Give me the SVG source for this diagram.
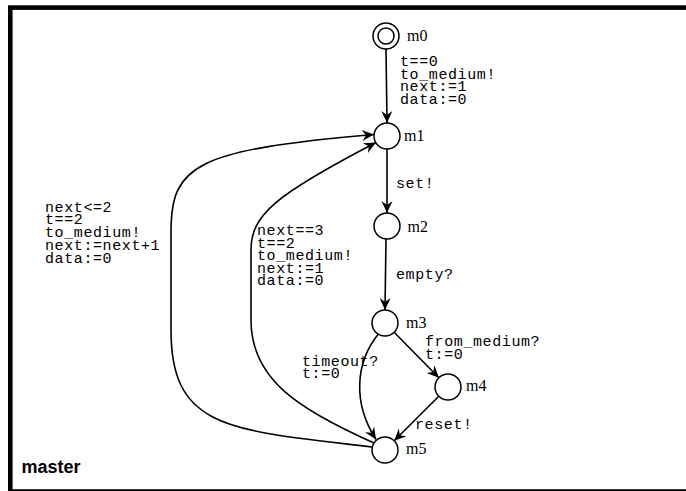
<svg xmlns="http://www.w3.org/2000/svg" width="686" height="491" viewBox="0 0 686 491">
<defs>
<style>
.node circle{fill:#fff;stroke:#000;stroke-width:1.5}
.nl{font-family:"Liberation Serif",serif;font-size:16px;fill:#000}
.el{font-family:"Liberation Mono",monospace;font-size:15px;letter-spacing:0.6px;fill:#000}
.edge{fill:none;stroke:#000;stroke-width:1.6;marker-end:url(#arr)}
</style>
<marker id="arr" markerUnits="userSpaceOnUse" viewBox="-14 -7 16 14" markerWidth="16" markerHeight="14" refX="0" refY="0" orient="auto">
<path d="M0,0 L-12,-5.5 L-8,0 L-12,5.5 Z" fill="#000"/>
</marker>
</defs>
<rect x="0" y="0" width="686" height="491" fill="#fff"/>
<rect x="10.3" y="7.6" width="700" height="483.9" fill="none" stroke="#000" stroke-width="4.6"/>
<text x="21.5" y="472.7" style="font-family:'Liberation Sans',Arial,sans-serif;font-size:18px;font-weight:bold">master</text>

<g id="connectors">
<path class="edge" d="M386,49 L387,123"/>
<path class="edge" d="M387,149 L387,213"/>
<path class="edge" d="M386,239 L385,310"/>
<path class="edge" d="M394.1,332.3 L438.9,377.7"/>
<path class="edge" d="M438.8,396.2 L394.2,440.8"/>
<path class="edge" d="M378,334.5 C356,362 352,402 376,439.5"/>
<path class="edge" d="M372,447 C230,430 171,430 171,330 L171,232 C171,165 195,150 374,134.5"/>
<path class="edge" d="M374,443 C300,410 251,380 251,320 L251,250 C251,215 275,195 376,142.5"/>
<text class="el" x="400" y="66">t==0<tspan x="400" dy="12.6">to_medium!</tspan><tspan x="400" dy="12.6">next:=1</tspan><tspan x="400" dy="12.6">data:=0</tspan></text>
<text class="el" x="396" y="188">set!</text>
<text class="el" x="396" y="279">empty?</text>
<text class="el" x="425" y="346">from_medium?<tspan x="425" dy="12.6">t:=0</tspan></text>
<text class="el" x="302" y="365.5">timeout?<tspan x="302" dy="12.6">t:=0</tspan></text>
<text class="el" x="415" y="429">reset!</text>
<text class="el" x="45" y="211.5">next&lt;=2<tspan x="45" dy="12.75">t==2</tspan><tspan x="45" dy="12.75">to_medium!</tspan><tspan x="45" dy="12.75">next:=next+1</tspan><tspan x="45" dy="12.75">data:=0</tspan></text>
<text class="el" x="257" y="235">next==3<tspan x="257" dy="12.5">t==2</tspan><tspan x="257" dy="12.5">to_medium!</tspan><tspan x="257" dy="12.5">next:=1</tspan><tspan x="257" dy="12.5">data:=0</tspan></text>
</g>

<g id="m0" class="node"><circle cx="386" cy="36" r="13"/><circle cx="386" cy="36" r="8"/><text class="nl" x="407" y="41">m0</text></g>
<g id="m1" class="node"><circle cx="387" cy="136" r="13"/><text class="nl" x="404" y="141">m1</text></g>
<g id="m2" class="node"><circle cx="387" cy="226" r="13"/><text class="nl" x="407.5" y="232">m2</text></g>
<g id="m3" class="node"><circle cx="385" cy="323" r="13"/><text class="nl" x="406" y="328">m3</text></g>
<g id="m4" class="node"><circle cx="448" cy="387" r="13"/><text class="nl" x="466" y="391">m4</text></g>
<g id="m5" class="node"><circle cx="385" cy="450" r="13"/><text class="nl" x="406" y="454">m5</text></g>
</svg>
